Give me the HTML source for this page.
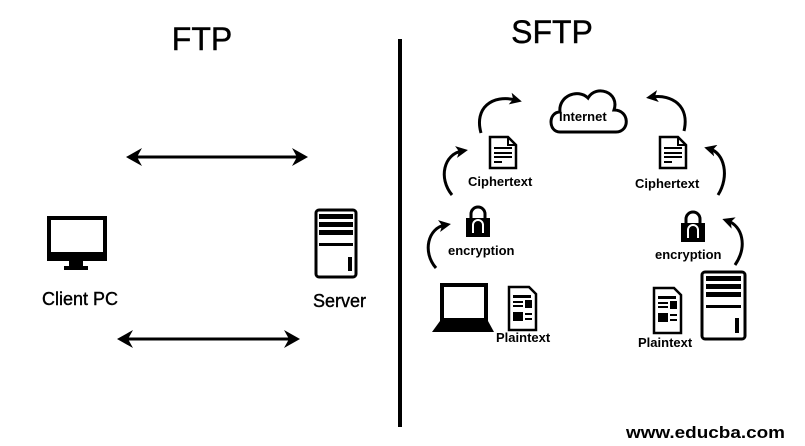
<!DOCTYPE html>
<html><head><meta charset="utf-8"><style>
html,body{margin:0;padding:0;background:#fff;}
svg{display:block;}
text{font-family:"Liberation Sans",sans-serif;fill:#000;}
</style></head><body>
<svg width="805" height="446" viewBox="0 0 805 446" xmlns="http://www.w3.org/2000/svg">
<defs>
<marker id="ah" markerWidth="12" markerHeight="12" refX="6" refY="6" orient="auto" markerUnits="userSpaceOnUse">
<path d="M0,0 L12,6 L0,12 L3,6 Z" fill="#000"/>
</marker>
</defs>
<text x="202" y="50" font-size="32" text-anchor="middle" stroke="#000" stroke-width="0.4">FTP</text>
<text x="552" y="43" font-size="32" text-anchor="middle" stroke="#000" stroke-width="0.4">SFTP</text>
<rect x="398" y="39" width="4" height="388" fill="#000"/>

<!-- FTP arrows -->
<line x1="130" y1="157" x2="304" y2="157" stroke="#000" stroke-width="3"/>
<path d="M126,157 L142,148 L137,157 L142,166 Z" fill="#000"/>
<path d="M308,157 L292,148 L297,157 L292,166 Z" fill="#000"/>
<line x1="121" y1="339" x2="296" y2="339" stroke="#000" stroke-width="3"/>
<path d="M117,339 L133,330 L128,339 L133,348 Z" fill="#000"/>
<path d="M300,339 L284,330 L289,339 L284,348 Z" fill="#000"/>

<!-- Client monitor -->
<rect x="49" y="218" width="56" height="41" fill="none" stroke="#000" stroke-width="4"/>
<rect x="47" y="252" width="60" height="9" fill="#000"/>
<rect x="69" y="261" width="14" height="6" fill="#000"/>
<rect x="64" y="266" width="24" height="4" fill="#000"/>
<text x="42" y="305" font-size="18" stroke="#000" stroke-width="0.4">Client PC</text>

<!-- Server FTP -->
<rect x="316" y="210" width="40" height="67" rx="3" fill="none" stroke="#000" stroke-width="3"/>
<rect x="319" y="214" width="34" height="5" fill="#000"/>
<rect x="319" y="222" width="34" height="5" fill="#000"/>
<rect x="319" y="230" width="34" height="5" fill="#000"/>
<rect x="319" y="243" width="34" height="3" fill="#000"/>
<rect x="348" y="257" width="4" height="14" fill="#000"/>
<text x="313" y="307" font-size="18" stroke="#000" stroke-width="0.4">Server</text>

<!-- Cloud -->
<path d="M560,132 C548,132 548,112 560,112 C558,96 578,88 588,98 C596,84 620,92 614,110 C630,110 630,132 616,132 Z" fill="none" stroke="#000" stroke-width="3"/>
<text x="559" y="121" font-size="13" font-weight="bold">Internet</text>

<!-- arcs left -->
<path d="M481,133 C474,108 492,94 516,100" fill="none" stroke="#000" stroke-width="3" marker-end="url(#ah)"/>
<path d="M452,195 C438,178 444,154 462,151" fill="none" stroke="#000" stroke-width="3" marker-end="url(#ah)"/>
<path d="M436,268 C422,252 428,228 445,225" fill="none" stroke="#000" stroke-width="3" marker-end="url(#ah)"/>
<!-- arcs right -->
<path d="M684,131 C690,106 672,94 652,97" fill="none" stroke="#000" stroke-width="3" marker-end="url(#ah)"/>
<path d="M718,195 C730,176 724,153 710,149" fill="none" stroke="#000" stroke-width="3" marker-end="url(#ah)"/>
<path d="M735,265 C748,246 742,226 728,221" fill="none" stroke="#000" stroke-width="3" marker-end="url(#ah)"/>

<!-- cipher doc left -->
<g transform="translate(489,136)">
<path d="M1,1 H19 L27,9 V32 H1 Z" fill="none" stroke="#000" stroke-width="2.5"/>
<path d="M19,1 V9 H27" fill="none" stroke="#000" stroke-width="2"/>
<rect x="5" y="11" width="18" height="2" fill="#000"/><rect x="5" y="16" width="18" height="2" fill="#000"/><rect x="5" y="20" width="18" height="2" fill="#000"/><rect x="5" y="25" width="8" height="2" fill="#000"/>
</g>
<text x="468" y="186" font-size="13" font-weight="bold">Ciphertext</text>
<g transform="translate(659,136)">
<path d="M1,1 H19 L27,9 V32 H1 Z" fill="none" stroke="#000" stroke-width="2.5"/>
<path d="M19,1 V9 H27" fill="none" stroke="#000" stroke-width="2"/>
<rect x="5" y="11" width="18" height="2" fill="#000"/><rect x="5" y="16" width="18" height="2" fill="#000"/><rect x="5" y="20" width="18" height="2" fill="#000"/><rect x="5" y="25" width="8" height="2" fill="#000"/>
</g>
<text x="635" y="188" font-size="13" font-weight="bold">Ciphertext</text>

<!-- locks -->
<g transform="translate(466,205)">
<path d="M5,13 V9 A7,7 0 0 1 19,9 V13" fill="none" stroke="#000" stroke-width="3"/>
<rect x="0" y="13" width="24" height="19" fill="#000"/>
<path d="M7,28 V20 A5,5 0 0 1 17,20 V28" fill="none" stroke="#fff" stroke-width="2"/>
</g>
<text x="448" y="255" font-size="13" font-weight="bold">encryption</text>
<g transform="translate(681,210)">
<path d="M5,13 V9 A7,7 0 0 1 19,9 V13" fill="none" stroke="#000" stroke-width="3"/>
<rect x="0" y="13" width="24" height="19" fill="#000"/>
<path d="M7,28 V20 A5,5 0 0 1 17,20 V28" fill="none" stroke="#fff" stroke-width="2"/>
</g>
<text x="655" y="259" font-size="13" font-weight="bold">encryption</text>

<!-- laptop -->
<rect x="442" y="285" width="44" height="35" fill="none" stroke="#000" stroke-width="4"/>
<path d="M440,321 H488 L494,332 H432 Z" fill="#000"/>
<!-- plaintext doc left -->
<g transform="translate(508,286)">
<path d="M1,1 H21 L28,8 V44 H1 Z" fill="none" stroke="#000" stroke-width="2.5"/>
<rect x="5" y="9" width="18" height="3" fill="#000"/>
<rect x="5" y="15" width="10" height="2" fill="#000"/><rect x="5" y="19" width="10" height="2" fill="#000"/><rect x="17" y="14" width="7" height="8" fill="#000"/>
<rect x="5" y="26" width="10" height="9" fill="#000"/><rect x="17" y="27" width="7" height="2" fill="#000"/><rect x="17" y="32" width="7" height="2" fill="#000"/>
</g>
<text x="496" y="342" font-size="13" font-weight="bold">Plaintext</text>
<g transform="translate(653,287)">
<path d="M1,1 H21 L28,8 V46 H1 Z" fill="none" stroke="#000" stroke-width="2.5"/>
<rect x="5" y="9" width="18" height="3" fill="#000"/>
<rect x="5" y="15" width="10" height="2" fill="#000"/><rect x="5" y="19" width="10" height="2" fill="#000"/><rect x="17" y="14" width="7" height="8" fill="#000"/>
<rect x="5" y="26" width="10" height="9" fill="#000"/><rect x="17" y="27" width="7" height="2" fill="#000"/><rect x="17" y="32" width="7" height="2" fill="#000"/>
</g>
<text x="638" y="347" font-size="13" font-weight="bold">Plaintext</text>

<!-- server SFTP -->
<rect x="702" y="272" width="43" height="67" rx="3" fill="none" stroke="#000" stroke-width="3"/>
<rect x="706" y="276" width="35" height="5" fill="#000"/>
<rect x="706" y="284" width="35" height="5" fill="#000"/>
<rect x="706" y="292" width="35" height="5" fill="#000"/>
<rect x="706" y="305" width="35" height="3" fill="#000"/>
<rect x="735" y="318" width="4" height="15" fill="#000"/>

<text x="626" y="438" font-size="17" font-weight="bold" textLength="159" lengthAdjust="spacingAndGlyphs">www.educba.com</text>
</svg>
</body></html>
